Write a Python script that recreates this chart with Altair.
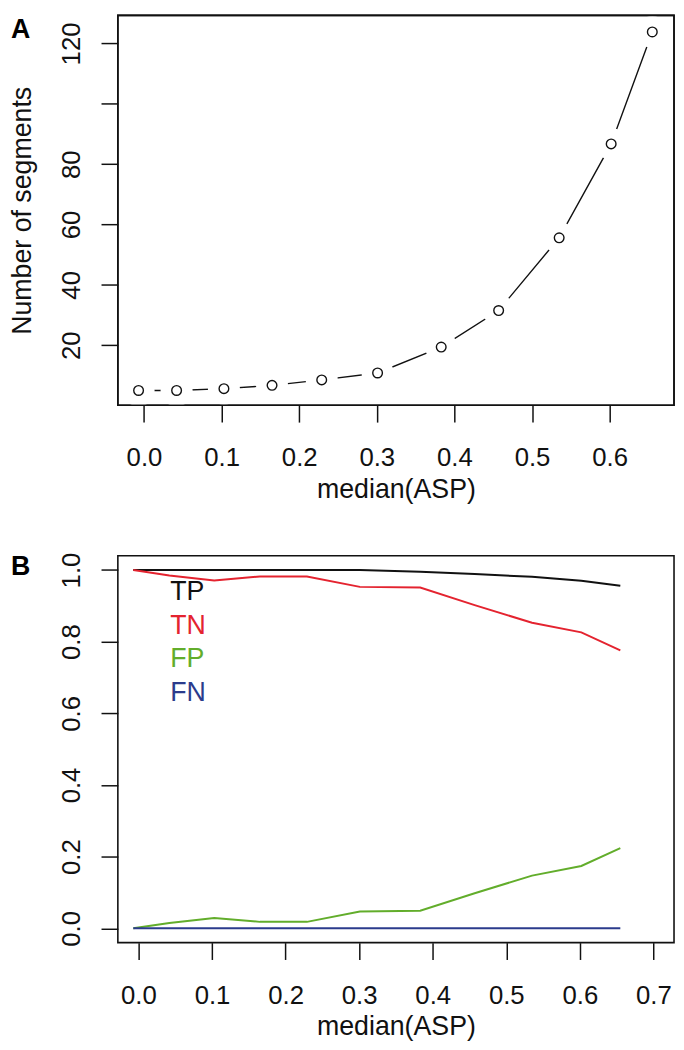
import altair as alt
import pandas as pd

# ---- data ----
asp = [-0.007, 0.042, 0.103, 0.165, 0.229, 0.301, 0.383, 0.457, 0.535, 0.602, 0.655]
segments = [5.0, 5.0, 5.6, 6.7, 8.5, 10.8, 19.4, 31.5, 55.6, 86.7, 123.8]
tp = [1.0, 1.0, 1.0, 1.0, 1.0, 1.0, 0.995, 0.989, 0.981, 0.970, 0.956]
tn = [1.0, 0.985, 0.971, 0.982, 0.982, 0.953, 0.951, 0.902, 0.853, 0.826, 0.776]
fp = [0.0, 0.015, 0.029, 0.018, 0.018, 0.047, 0.049, 0.098, 0.147, 0.174, 0.224]
fn = [0.0, 0.0, 0.0, 0.0, 0.0, 0.0, 0.0, 0.0, 0.0, 0.0, 0.0]
series = ["TP", "TN", "FP", "FN"]
series_colors = ["#111111", "#e4232f", "#62ad2b", "#2b3b8c"]
xticks_a = [0.0, 0.1, 0.2, 0.3, 0.4, 0.5, 0.6]
xticks_b = [0.0, 0.1, 0.2, 0.3, 0.4, 0.5, 0.6, 0.7]
yticks_a = [20, 40, 60, 80, 100, 120]
yticks_b = [0.0, 0.2, 0.4, 0.6, 0.8, 1.0]

FONT = "Liberation Sans"
INK = "#111111"

df_a = pd.DataFrame({"asp": asp, "seg": segments})
rows = []
for name, vals in zip(series, [tp, tn, fp, fn]):
    for x, v in zip(asp, vals):
        rows.append({"asp": x, "rate": v, "series": name})
df_b = pd.DataFrame(rows)
df_leg = pd.DataFrame({"series": series})

W = 562
HA = 394
HB = 391


def y_axis(values, title, fmt, label_expr=None):
    kw = dict(values=values, title=title, format=fmt, labelAngle=270,
              labelAlign="center", labelBaseline="bottom", labelPadding=17,
              titlePadding=22)
    if label_expr:
        kw["labelExpr"] = label_expr
    return alt.Axis(**kw)


x_axis_a = alt.Axis(values=xticks_a, format=".1f", title="median(ASP)",
                    labelPadding=23, titlePadding=6)
x_axis_b = alt.Axis(values=xticks_b, format=".1f", title="median(ASP)",
                    labelPadding=23, titlePadding=6)

# ---- panel A ----
xa = alt.X("asp:Q", scale=alt.Scale(domain=[-0.0337, 0.683], nice=False, zero=False), axis=x_axis_a)
ya = alt.Y("seg:Q", scale=alt.Scale(domain=[0.1, 129.3], nice=False, zero=False),
           axis=y_axis(yticks_a, "Number of segments", "d",
                       "datum.value == 100 ? '' : datum.label"))

base_a = alt.Chart(df_a).encode(x=xa, y=ya)
line_a = base_a.mark_line(color=INK, strokeWidth=1.4)
# white discs leave the R type="b" gaps between the line and the circles
mask_a = base_a.mark_point(shape="circle", filled=True, color="white", opacity=1, size=1050, strokeWidth=0)
pts_a = base_a.mark_point(shape="circle", filled=False, color=INK, opacity=1, size=95, strokeWidth=1.4)
# plot frame drawn on top so the gap discs never hide it
frame_a = alt.Chart(pd.DataFrame({"f": [0]})).mark_rect(
    filled=False, stroke=INK, strokeWidth=1.6
).encode(x=alt.value(0), x2=alt.value(W), y=alt.value(0), y2=alt.value(HA))
lab_a = alt.Chart(pd.DataFrame({"panel": ["A"]})).mark_text(
    align="left", baseline="top", font=FONT, fontSize=27, fontWeight="bold", color="#000"
).encode(text="panel:N", x=alt.value(-108), y=alt.value(2))

panel_a = alt.layer(line_a, mask_a, pts_a, frame_a, lab_a).properties(width=W, height=HA)

# ---- panel B ----
xb = alt.X("asp:Q", scale=alt.Scale(domain=[-0.028, 0.728], nice=False, zero=False), axis=x_axis_b)
yb = alt.Y("rate:Q", scale=alt.Scale(domain=[-0.04, 1.04], nice=False, zero=False),
           axis=y_axis(yticks_b, None, ".1f"))
color = alt.Color("series:N", scale=alt.Scale(domain=series, range=series_colors), legend=None)

lines_b = alt.Chart(df_b).mark_line(strokeWidth=2).encode(
    x=xb, y=yb, color=color, detail="series:N")
leg_b = alt.Chart(df_leg).mark_text(
    align="left", baseline="alphabetic", font=FONT, fontSize=27
).encode(
    text="series:N",
    color=color,
    x=alt.value(53),
    y=alt.Y("series:N", sort=series, axis=None,
            scale=alt.Scale(type="point", domain=series, range=[45, 146.6], padding=0)),
)
lab_b = alt.Chart(pd.DataFrame({"panel": ["B"]})).mark_text(
    align="left", baseline="top", font=FONT, fontSize=27, fontWeight="bold", color="#000"
).encode(text="panel:N", x=alt.value(-108), y=alt.value(-1))

panel_b = alt.layer(lines_b, leg_b, lab_b).resolve_scale(y="independent").properties(width=W, height=HB)

chart = alt.vconcat(panel_a, panel_b, spacing=48).properties(
    padding={"left": 0, "top": 0, "right": 0, "bottom": 0},
    background="white",
).configure_view(
    stroke=INK, strokeWidth=1.6
).configure_axis(
    labelFont=FONT, titleFont=FONT, labelFontSize=26, titleFontSize=27,
    titleFontWeight="normal", labelColor=INK, titleColor=INK,
    tickColor=INK, tickWidth=1.5, tickSize=17, domain=False, grid=False,
)

chart.save("out.html", embed_options={"renderer": "svg", "actions": False})
